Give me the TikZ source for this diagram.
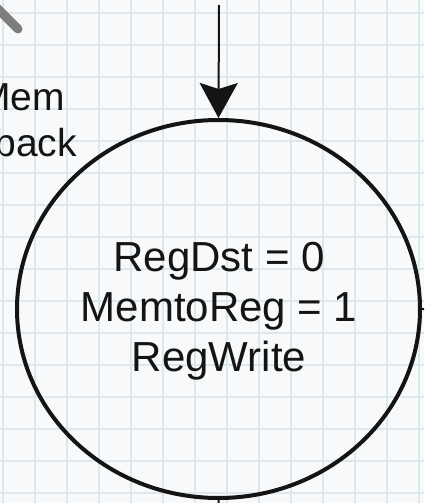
\documentclass[tikz,border=0pt]{standalone}
\usepackage{fontspec}
\setmainfont{Liberation Sans}
\usetikzlibrary{shapes.geometric,arrows.meta}
\definecolor{bgc}{RGB}{247,249,250}
\definecolor{gridc}{RGB}{221,232,237}
\definecolor{inkc}{RGB}{20,20,20}
\definecolor{markc}{RGB}{125,125,125}
\tikzset{
  gridline/.style={draw=gridc,line width=1.2pt},
  statebox/.style={ellipse,draw=inkc,line width=4pt,minimum width=403pt,minimum height=378pt,inner sep=0pt},
  conn/.style={draw=inkc,line width=2pt},
  arrowconn/.style={conn,-{Stealth[length=35pt,width=38pt,inset=6pt]}},
  bigtext/.style={font=\fontsize{42}{50}\selectfont,text=inkc,align=center,inner sep=0pt},
  sidetext/.style={font=\fontsize{39}{46}\selectfont,text=inkc,inner sep=0pt},
}
\begin{document}
\begin{tikzpicture}[x=1pt,y=-1pt]
\useasboundingbox (0,0) rectangle (424,503);
\clip (0,0) rectangle (424,503);
\fill[bgc] (0,0) rectangle (424,503);
\foreach \gx in {3,35,...,424} {\draw[gridline] (\gx,0) -- (\gx,503);}
\foreach \gy in {13,45,...,503} {\draw[gridline] (0,\gy) -- (424,\gy);}
% gray mark top-left
\coordinate (m1) at (-20,-9);
\coordinate (m2) at (18,29);
\draw[draw=markc,line width=9pt,line cap=round] (m1) -- (m2);
% side labels (cut off)
\node[sidetext,anchor=base east] (lmem) at (65,110) {Mem};
\node[sidetext,anchor=base east] (lback) at (77,156) {Writeback};
% state
\node[statebox] (state) at (218.5,309) {};
\node[bigtext] (label) at (219,311) {RegDst = 0\\MemtoReg = 1\\RegWrite};
% connectors
\coordinate (top) at (219,5);
\coordinate (bot) at (219,520);
\coordinate (rgt) at (440,310);
\draw[arrowconn] (top) -- (state.north);
\draw[conn] (state.south) -- (bot);
\draw[conn] (state.east) -- (rgt);
\end{tikzpicture}
\end{document}
